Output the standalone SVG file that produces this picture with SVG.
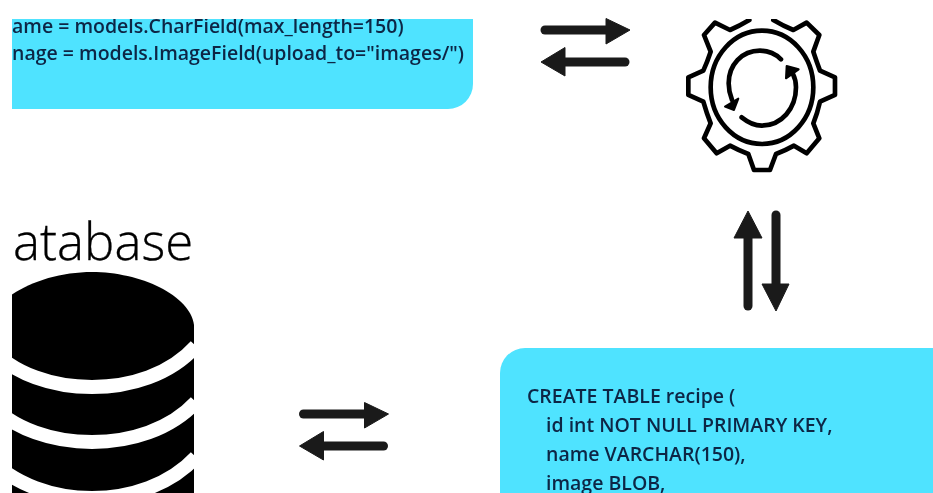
<svg xmlns="http://www.w3.org/2000/svg" width="933" height="493" viewBox="0 0 933 493">
  <style>
    .box { fill: #4fe3ff; }
    .code { font-family: "Open Sans", "Liberation Sans", sans-serif; font-size: 19.5px; font-weight: 600; fill: #0b2545; filter: url(#soft); }
    .title { font-family: "Open Sans", "Liberation Sans", sans-serif; font-size: 51px; font-weight: 300; fill: #000; stroke: #000; stroke-width: 0.3px; filter: url(#soft); }
    .ln { fill: none; stroke: #1a1a1a; stroke-width: 9; stroke-linecap: round; }
    .hd { fill: #1a1a1a; stroke: #1a1a1a; stroke-width: 1; stroke-linejoin: round; }
    .gear { fill: none; stroke: #000; stroke-width: 14; stroke-linejoin: round; stroke-linecap: round; }
    .band { fill: none; stroke: #fff; stroke-width: 14; }
  </style>
  <defs>
    <filter id="soft" x="-5%" y="-20%" width="110%" height="140%"><feGaussianBlur stdDeviation="0.45"/></filter>
    <clipPath id="clipTop"><rect x="12" y="19" width="921" height="474"/></clipPath>
    <clipPath id="clipDb"><rect x="12" y="200" width="300" height="293"/></clipPath>
    <g id="pair">
      <line class="ln" x1="545" y1="30" x2="610" y2="30"/>
      <polygon class="hd" points="606,18.5 630,30 606,44"/>
      <line class="ln" x1="564" y1="62" x2="625" y2="62"/>
      <polygon class="hd" points="565,47.5 541,62 565,76"/>
    </g>
  </defs>

  <g id="model-box" clip-path="url(#clipTop)">
    <path class="box" d="M0 0H473V84A25 25 0 0 1 448 109H0Z"/>
    <text class="code" x="12" y="33">ame = models.CharField(max_length=150)</text>
    <text class="code" x="12" y="60">nage = models.ImageField(upload_to="images/")</text>
  </g>

  <g id="orm-gear" clip-path="url(#clipTop)">
    <g transform="translate(670 0) scale(0.3333)" filter="url(#soft)">
      <path class="gear" d="M238 60Q208 78 180 90L135 68L102 105L122 155Q112 185 100 212L55 232V285L100 305Q110 340 122 370L102 415L140 460L180 437Q208 452 235 462L252 510H300L318 462Q345 452 372 437L410 460L448 415L430 370Q442 340 450 305L495 285V232L450 212Q440 185 430 155L448 105L410 68L370 90Q340 78 310 60"/>
      <ellipse class="gear" cx="276" cy="262" rx="154" ry="170"/>
      <path class="gear" d="M333 178C315 160 295 152 270 152C215 152 176 195 176 250C176 268 180 285 186 300"/>
      <polygon points="165,320 205,296 192,330" fill="#000" stroke="#000" stroke-width="6" stroke-linejoin="round"/>
      <path class="gear" d="M215 352C235 368 255 377 275 377C335 377 378 325 378 262C378 245 374 232 368 220"/>
      <polygon points="386,208 350,198 348,235" fill="#000" stroke="#000" stroke-width="6" stroke-linejoin="round"/>
    </g>
  </g>

  <g id="database" clip-path="url(#clipDb)">
    <text class="title" x="13" y="260">atabase</text>
    <path fill="#000" d="M194 325C190 295 140 272 92 272C44 272 -6 295 -10 325V493H194Z"/>
    <path class="band" d="M196 346C170 375 130 387 92 387C54 387 14 375 -12 346"/>
    <path class="band" d="M196 402C170 430 130 442 92 442C54 442 14 430 -12 402"/>
    <path class="band" d="M196 457C170 485 130 498 92 498C54 498 14 485 -12 457"/>
  </g>

  <g id="sql-box">
    <path class="box" d="M933 348H525A25 25 0 0 0 500 373V493H933Z"/>
    <text class="code" x="527" y="403">CREATE TABLE recipe (</text>
    <text class="code" x="546" y="432">id int NOT NULL PRIMARY KEY,</text>
    <text class="code" x="546" y="461">name VARCHAR(150),</text>
    <text class="code" x="546" y="490">image BLOB,</text>
  </g>

  <g id="connectors">
    <use href="#pair"/>
    <use href="#pair" transform="translate(-241.5 384)"/>
    <line class="ln" x1="748" y1="234" x2="748" y2="306"/>
    <polygon class="hd" points="748,211 734,238 762,238"/>
    <line class="ln" x1="776" y1="215" x2="776" y2="288"/>
    <polygon class="hd" points="776,311 762,284 789,284"/>
  </g>
</svg>
